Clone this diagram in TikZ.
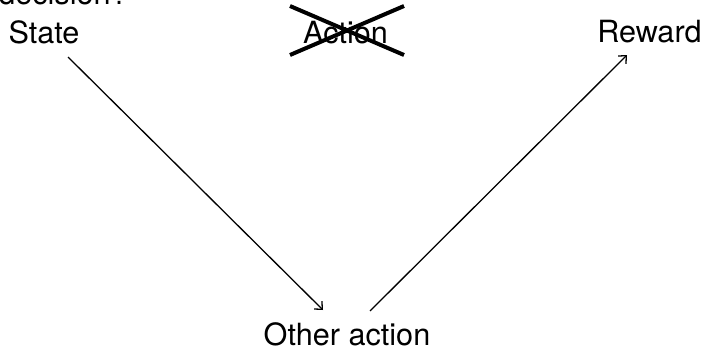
\documentclass[tikz,border=0pt]{standalone}
\usepackage{fontspec}
\setmainfont{TeX Gyre Heros}
\usetikzlibrary{arrows.meta}
\begin{document}
\begin{tikzpicture}[x=1pt,y=-1pt,
  lbl/.style={inner sep=0pt,anchor=base,font=\fontsize{30.6}{36}\selectfont},
  conn/.style={line width=1.3pt,-{Straight Barb[length=6pt,width=11pt,line width=1.3pt]}},
  crossline/.style={line width=4pt}]
\useasboundingbox (0,0) rectangle (706,348);
\node[lbl] (decision) at (63,5) {decision?};
\node[lbl] (state) at (44,43) {State};
\node[lbl] (action) at (345.5,43) {Action};
\node[lbl] (reward) at (649.5,42) {Reward};
\node[lbl] (other) at (347,345) {Other action};
\draw[crossline] ([shift={(-55.5,-37)}]action.base) -- ([shift={(58.5,12)}]action.base);
\draw[crossline] ([shift={(-55.5,12)}]action.base) -- ([shift={(58.5,-37)}]action.base);
\draw[conn] ([shift={(24,14)}]state.base) -- ([shift={(-24,-35)}]other.base);
\draw[conn] ([shift={(23,-34)}]other.base) -- ([shift={(-22.5,13)}]reward.base);
\end{tikzpicture}
\end{document}
